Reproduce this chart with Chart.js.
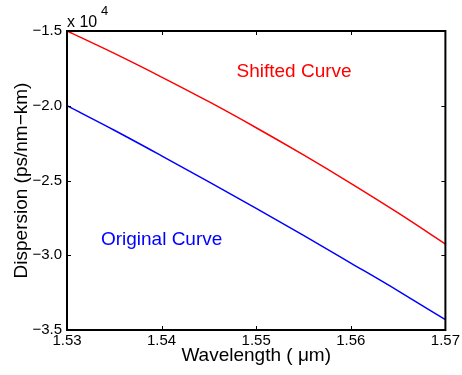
<!DOCTYPE html>
<html>
<head>
<meta charset="utf-8">
<script src="https://cdn.jsdelivr.net/npm/chart.js@4.4.0/dist/chart.umd.min.js"></script>
<style>
	html, body { margin: 0; padding: 0; background: #fff; }
	#wrap { width: 462px; height: 375px; }
</style>
</head>
<body>
<div id="wrap"><canvas id="lineChart" width="462" height="375"></canvas></div>
<script>
// wavelength in um, dispersion in units of 10^4 ps/nm-km
var wavelengths = [1.530, 1.535, 1.540, 1.545, 1.550, 1.555, 1.560, 1.565, 1.570];
var shiftedCurve = [-1.500, -1.650, -1.808, -1.973, -2.147, -2.329, -2.519, -2.717, -2.925];
var originalCurve = [-2.000, -2.164, -2.335, -2.509, -2.687, -2.867, -3.052, -3.238, -3.431];
var xTicks = [1.53, 1.54, 1.55, 1.56, 1.57];
var yTicks = [-3.5, -3.0, -2.5, -2.0, -1.5];

var fontName = '"Liberation Sans", Arial, sans-serif';

function toPoints(ys) {
	return wavelengths.map(function(x, i) {
		return { x: x, y: ys[i] };
	});
}

function minus(s) {
	return s.replace('-', '\u2212');
}

// box, inner ticks, exponent and curve labels
var matlabAxes = {
	id: 'matlabAxes',
	afterDraw: function(chart) {
		var ctx = chart.ctx;
		var a = chart.chartArea;
		var xs = chart.scales.x;
		var ys = chart.scales.y;
		ctx.save();
		ctx.strokeStyle = '#000';
		ctx.lineWidth = 1;
		xTicks.forEach(function(t) {
			var px = Math.round(xs.getPixelForValue(t)) + 0.5;
			ctx.beginPath();
			ctx.moveTo(px, a.bottom); ctx.lineTo(px, a.bottom - 4);
			ctx.moveTo(px, a.top); ctx.lineTo(px, a.top + 4);
			ctx.stroke();
		});
		yTicks.forEach(function(t) {
			var py = Math.round(ys.getPixelForValue(t)) + 0.5;
			ctx.beginPath();
			ctx.moveTo(a.left, py); ctx.lineTo(a.left + 4, py);
			ctx.moveTo(a.right, py); ctx.lineTo(a.right - 4, py);
			ctx.stroke();
		});
		ctx.lineWidth = 2;
		ctx.strokeRect(a.left, a.top, a.right - a.left, a.bottom - a.top);

		ctx.fillStyle = '#000';
		ctx.textAlign = 'left';
		ctx.textBaseline = 'alphabetic';
		ctx.font = '16px ' + fontName;
		ctx.fillText('x 10', a.left, a.top - 4);
		ctx.font = '13px ' + fontName;
		ctx.fillText('4', a.left + 34, a.top - 16);

		ctx.textAlign = 'center';
		ctx.textBaseline = 'middle';
		ctx.font = '19px ' + fontName;
		ctx.fillStyle = '#ff0000';
		ctx.fillText('Shifted Curve', xs.getPixelForValue(1.554), ys.getPixelForValue(-1.774));
		ctx.fillStyle = '#0000ff';
		ctx.fillText('Original Curve', xs.getPixelForValue(1.540), ys.getPixelForValue(-2.898));
		ctx.restore();
	}
};

var ctx = document.getElementById('lineChart').getContext('2d');
new Chart(ctx, {
	type: 'line',
	data: {
		datasets: [{
			label: 'Shifted Curve',
			data: toPoints(shiftedCurve),
			borderColor: '#ff0000',
			borderWidth: 1.5,
			pointRadius: 0,
			cubicInterpolationMode: 'monotone'
		}, {
			label: 'Original Curve',
			data: toPoints(originalCurve),
			borderColor: '#0000ff',
			borderWidth: 1.5,
			pointRadius: 0,
			cubicInterpolationMode: 'monotone'
		}]
	},
	options: {
		responsive: false,
		animation: false,
		layout: { padding: { left: 0, right: 15, top: 31, bottom: 0 } },
		plugins: {
			legend: { display: false },
			tooltip: { enabled: false }
		},
		scales: {
			x: {
				type: 'linear',
				min: 1.53,
				max: 1.57,
				afterBuildTicks: function(scale) {
					scale.ticks = xTicks.map(function(v) { return { value: v }; });
				},
				afterFit: function(scale) { scale.height = 45; },
				grid: { display: false, drawTicks: false },
				border: { display: false },
				ticks: {
					color: '#000',
					padding: 2,
					maxRotation: 0,
					font: { family: fontName, size: 15 },
					callback: function(v) { return v.toFixed(2); }
				},
				title: {
					display: true,
					text: 'Wavelength ( \u03bcm)',
					color: '#000',
					padding: { top: 0, bottom: 8 },
					font: { family: fontName, size: 19 }
				}
			},
			y: {
				type: 'linear',
				min: -3.5,
				max: -1.5,
				afterBuildTicks: function(scale) {
					scale.ticks = yTicks.map(function(v) { return { value: v }; });
				},
				afterFit: function(scale) { scale.width = 67; },
				grid: { display: false, drawTicks: false },
				border: { display: false },
				ticks: {
					color: '#000',
					padding: 5,
					font: { family: fontName, size: 15 },
					callback: function(v) { return minus(v.toFixed(1)); }
				},
				title: {
					display: true,
					text: 'Dispersion (ps/nm\u2212km)',
					color: '#000',
					padding: { top: 10, bottom: 0 },
					font: { family: fontName, size: 19 }
				}
			}
		}
	},
	plugins: [matlabAxes]
});
</script>
</body>
</html>
